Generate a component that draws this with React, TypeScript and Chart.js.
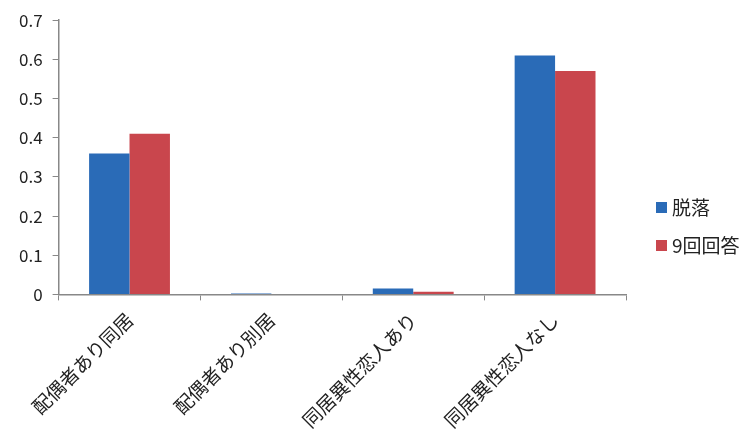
import React, { useEffect, useRef } from "react";
import { Chart, registerables } from "chart.js";

Chart.register(...registerables);

const categories = ["配偶者あり同居", "配偶者あり別居", "同居異性恋人あり", "同居異性恋人なし"];
const seriesNames = ["脱落", "9回回答"];
const dropoutValues = [0.36, 0.002, 0.015, 0.61];
const answeredValues = [0.41, 0.001, 0.007, 0.57];
const colors = ["#2a6bb7", "#c9464d"];

const FONT = "'Noto Sans CJK JP', 'Noto Sans', sans-serif";

const legendPlugin = {
  id: "customLegend",
  afterDraw(chart: any) {
    const ctx = chart.ctx;
    ctx.save();
    const x = 656;
    const ys = [207, 245];
    ctx.font = `19px ${FONT}`;
    ctx.textBaseline = "middle";
    ctx.textAlign = "left";
    seriesNames.forEach((name, i) => {
      ctx.fillStyle = colors[i];
      ctx.fillRect(x, ys[i] - 5, 11, 11);
      ctx.fillStyle = "#222";
      ctx.fillText(name, x + 16, ys[i] + 1);
    });
    ctx.restore();
  },
};

export default function App() {
  const ref = useRef<HTMLCanvasElement>(null);
  useEffect(() => {
    const chart = new Chart(ref.current!, {
      type: "bar",
      data: {
        labels: categories,
        datasets: [
          { label: seriesNames[0], data: dropoutValues, backgroundColor: colors[0], categoryPercentage: 0.57, barPercentage: 1 },
          { label: seriesNames[1], data: answeredValues, backgroundColor: colors[1], categoryPercentage: 0.57, barPercentage: 1 },
        ],
      },
      options: {
        responsive: false,
        animation: false,
        layout: { padding: { left: 9, top: 0, right: 128, bottom: 8 } },
        plugins: { legend: { display: false }, tooltip: { enabled: false } },
        scales: {
          x: {
            grid: { drawOnChartArea: false, color: "#888", tickLength: 6, offset: true },
            border: { color: "#888", width: 1.5 },
            ticks: {
              color: "#222",
              font: { family: FONT, size: 19 },
              minRotation: 45,
              maxRotation: 45,
              autoSkip: false,
              padding: 8,
            },
          },
          y: {
            min: 0,
            max: 0.7,
            grid: { drawOnChartArea: false, color: "#888", tickLength: 6 },
            border: { color: "#888", width: 1.5 },
            ticks: {
              stepSize: 0.1,
              color: "#222",
              font: { family: FONT, size: 17 },
              padding: 10,
              callback: (v: any) => (Math.round(Number(v) * 10) / 10).toString(),
            },
          },
        },
      },
      plugins: [legendPlugin],
    });
    return () => chart.destroy();
  }, []);
  return (
    <div style={{ position: "absolute", left: 0, top: 0, width: 754, height: 448, background: "#fff" }}>
      <canvas ref={ref} width={754} height={448} />
    </div>
  );
}
